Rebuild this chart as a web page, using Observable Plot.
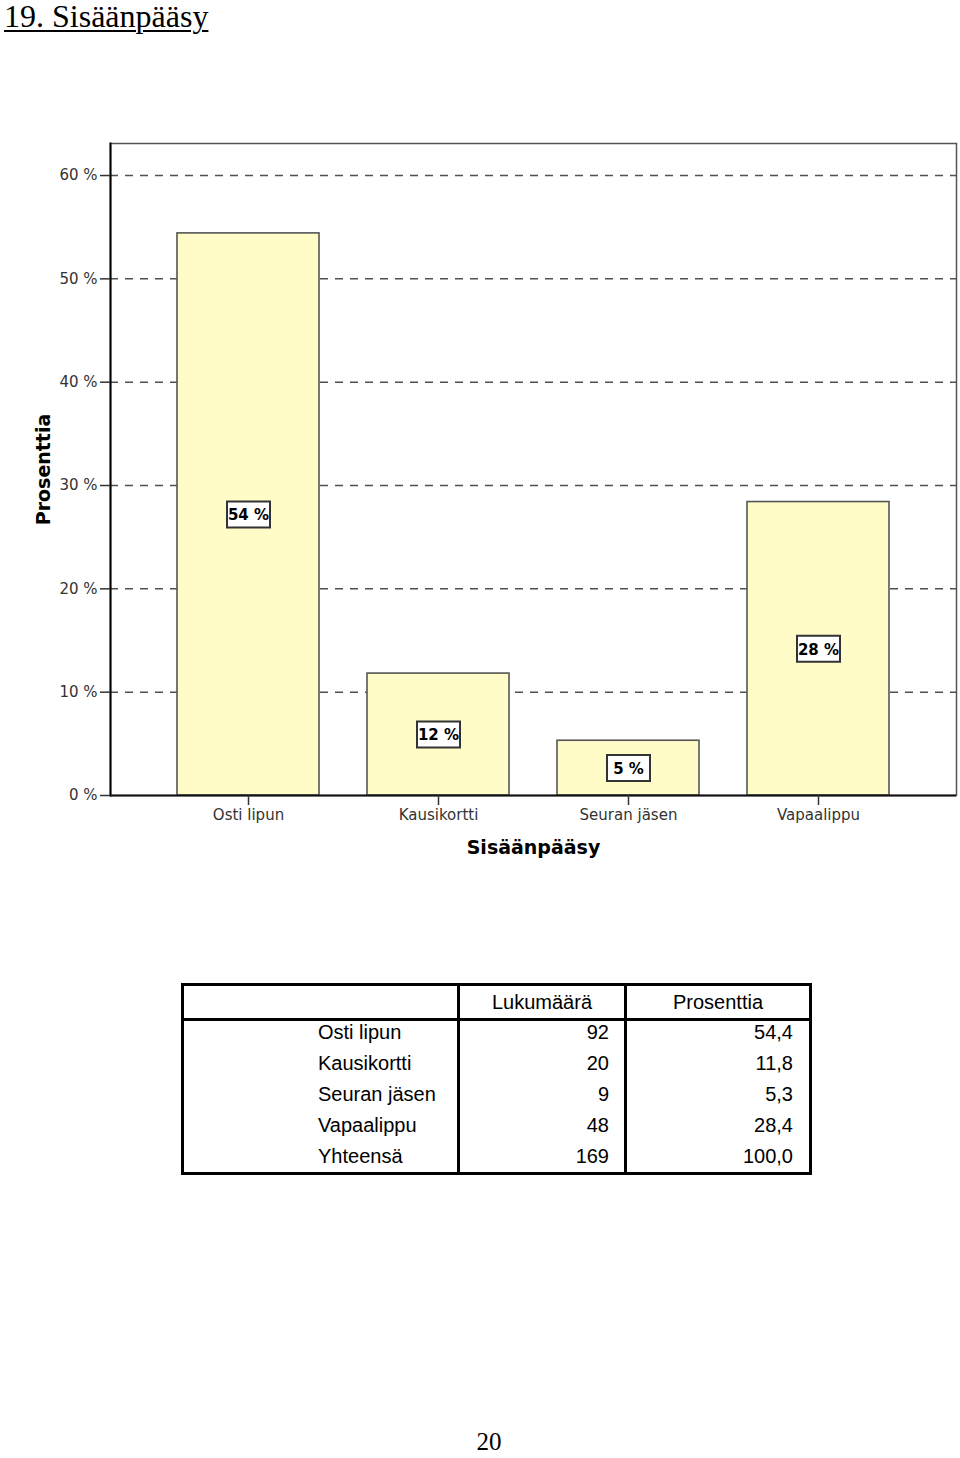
<!DOCTYPE html>
<html>
<head>
<meta charset="utf-8">
<script src="https://cdn.jsdelivr.net/npm/d3@7"></script>
<script src="https://cdn.jsdelivr.net/npm/@observablehq/plot@0.6"></script>
<style>
  html, body { margin: 0; padding: 0; background: #fff; }
  body { width: 960px; height: 1458px; position: relative; overflow: hidden; }
  #title { position: absolute; left: 4px; top: 0px; line-height: 32px; font-family: "Liberation Serif", serif; font-size: 32px; text-decoration: underline; text-decoration-thickness: 2px; text-underline-offset: 3px; color: #000; white-space: nowrap; }
  #chart { position: absolute; left: 0; top: 100px; }
  #tbl { position: absolute; left: 181px; top: 983px; border-collapse: collapse; table-layout: fixed; font-family: "Liberation Sans", Arial, sans-serif; font-size: 20px; color: #000; border: 3px solid #000; }
  #tbl td, #tbl th { padding: 0; font-weight: normal; white-space: nowrap; }
  #tbl th { height: 26px; line-height: 32px; border-bottom: 3px solid #000; text-align: center; vertical-align: top; }
  #tbl .c1 { border-right: 3px solid #000; text-align: left; padding-left: 134px; }
  #tbl .c2 { border-right: 3px solid #000; text-align: right; padding-right: 15px; }
  #tbl .c3 { text-align: right; padding-right: 16px; }
  #tbl th.c2, #tbl th.c3 { text-align: center; padding-right: 0; }
  #tbl tbody tr td { line-height: 22px; height: 31px; vertical-align: top; }
  #tbl tbody tr:last-child td { height: 27px; }
  #page { position: absolute; left: 0; width: 960px; top: 1432px; line-height: 20px; text-align: center; font-family: "Liberation Serif", serif; font-size: 25px; }
</style>
</head>
<body>
<div id="title">19. Sisäänpääsy</div>
<div id="chart"></div>
<table id="tbl">
  <colgroup><col style="width:276px"><col style="width:167px"><col style="width:185px"></colgroup>
  <thead><tr><th class="c1"></th><th class="c2" id="h2"></th><th class="c3" id="h3"></th></tr></thead>
  <tbody id="tb"></tbody>
</table>
<div id="page"><span style="position:relative;left:9px">20</span></div>
<script>
// ---- data ----
const categories = ["Osti lipun", "Kausikortti", "Seuran jäsen", "Vapaalippu"];
const counts = [92, 20, 9, 48];
const percents = [54.4, 11.8, 5.3, 28.4];
const totalLabel = "Yhteensä";
const totalCount = 169;
const totalPercent = 100.0;
const tableHeaders = ["Lukumäärä", "Prosenttia"];
const yTicks = [0, 10, 20, 30, 40, 50, 60];
const gridTicks = [10, 20, 30, 40, 50, 60];
const xLabel = "Sisäänpääsy";
const yLabel = "Prosenttia";

const data = categories.map((c, i) => ({cat: c, n: counts[i], pct: percents[i]}));

const boxSymbol = {
  draw(ctx) { ctx.rect(-21.5, -13, 43, 26); }
};

const chart = Plot.plot({
  width: 960,
  height: 770,
  marginTop: 43,
  marginBottom: 75,
  marginLeft: 110,
  marginRight: 4,
  style: {fontFamily: "DejaVu Sans, sans-serif", fontSize: "15px", background: "transparent"},
  x: {domain: categories, paddingInner: 0.2526, paddingOuter: 0.3526, label: null},
  y: {domain: [0, 63.1], label: null},
  marks: [
    Plot.frame({stroke: "#555", strokeWidth: 1.5}),
    Plot.gridY(gridTicks, {stroke: "#333", strokeOpacity: 0.85, strokeWidth: 1.5, strokeDasharray: "8,7"}),
    Plot.barY(data, {x: "cat", y: "pct", fill: "#fffcc8", stroke: "#555", strokeWidth: 1.6}),
    Plot.frame({anchor: "left", stroke: "#000", strokeWidth: 2}),
    Plot.ruleY([0], {stroke: "#111", strokeWidth: 2}),
    Plot.axisY(yTicks, {tickSize: 10, tickPadding: 3, tickFormat: d => d + " %", fontSize: 15, color: "#333", label: null, strokeWidth: 1.5}),
    Plot.axisX({tickSize: 10, tickPadding: 4, fontSize: 15, color: "#333", label: null, strokeWidth: 1.5}),
    Plot.dot(data, {x: "cat", y: d => d.pct / 2, symbol: boxSymbol, fill: "#fff", stroke: "#333", strokeWidth: 2}),
    Plot.text(data, {x: "cat", y: d => d.pct / 2, text: d => Math.round(d.pct) + " %", fontSize: 15, fontWeight: "bold", fill: "#000", dy: 1}),
    Plot.text([yLabel], {frameAnchor: "left", textAnchor: "middle", lineAnchor: "middle", dx: -67, rotate: -90, fontSize: 19, fontWeight: "bold", fill: "#000"}),
    Plot.text([xLabel], {frameAnchor: "bottom", lineAnchor: "middle", dy: 52, fontSize: 19, fontWeight: "bold", fill: "#000"})
  ]
});
document.getElementById("chart").appendChild(chart);

// ---- table ----
document.getElementById("h2").textContent = tableHeaders[0];
document.getElementById("h3").textContent = tableHeaders[1];
const fmt = v => v.toFixed(1).replace(".", ",");
const rows = data.map(d => [d.cat, d.n, fmt(d.pct)]).concat([[totalLabel, totalCount, fmt(totalPercent)]]);
const tb = document.getElementById("tb");
rows.forEach(r => {
  const tr = document.createElement("tr");
  ["c1", "c2", "c3"].forEach((cls, j) => {
    const td = document.createElement("td");
    td.className = cls;
    td.textContent = r[j];
    tr.appendChild(td);
  });
  tb.appendChild(tr);
});
</script>
</body>
</html>
